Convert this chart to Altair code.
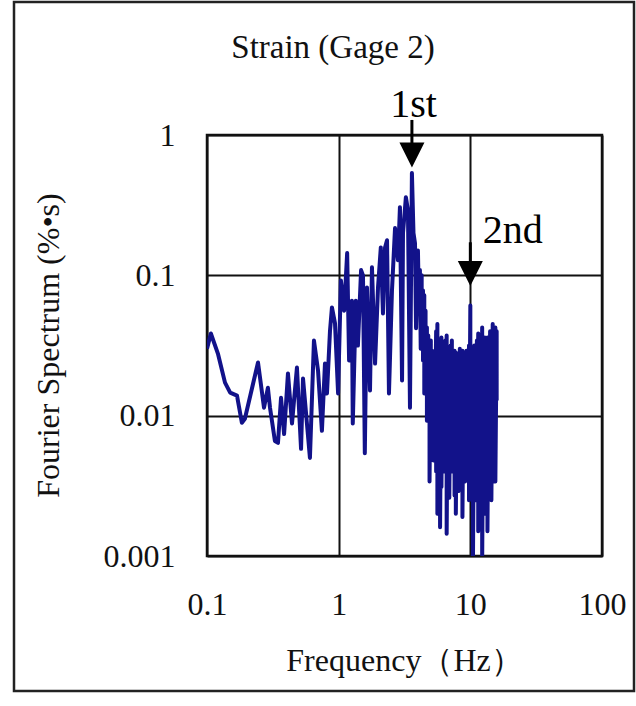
import altair as alt
import pandas as pd

FONT = "Liberation Serif"

# ---- spectrum below ~4.2 Hz (individual peaks and dips)
lo_freq = [0.100, 0.107, 0.121, 0.137, 0.150, 0.169, 0.184, 0.194, 0.244, 0.271,
           0.290, 0.301, 0.328, 0.346, 0.365, 0.385, 0.412, 0.442, 0.482, 0.518,
           0.536, 0.605, 0.649, 0.697, 0.746, 0.787, 0.815, 0.859, 0.889, 0.938,
           0.990, 1.04, 1.10, 1.16, 1.20, 1.26, 1.28, 1.35, 1.40, 1.48,
           1.53, 1.58, 1.64, 1.73, 1.79, 1.89, 1.99, 2.09, 2.17, 2.25,
           2.33, 2.41, 2.54, 2.68, 2.82, 2.92, 3.03, 3.08, 3.24, 3.36,
           3.48, 3.60, 3.70, 3.80, 3.87, 4.00, 4.07, 4.14, 4.20]
lo_amp = [0.030, 0.0385, 0.0277, 0.0172, 0.0146, 0.0139, 0.0089, 0.0095, 0.0239, 0.0114,
          0.0158, 0.0114, 0.0066, 0.0064, 0.0134, 0.0074, 0.020, 0.0088, 0.022, 0.0058,
          0.0184, 0.0050, 0.0343, 0.021, 0.0078, 0.0235, 0.0144, 0.040, 0.059, 0.0454,
          0.0144, 0.092, 0.056, 0.144, 0.0247, 0.066, 0.0088, 0.066, 0.0316, 0.109,
          0.10, 0.0054, 0.082, 0.0151, 0.114, 0.0235, 0.082, 0.158, 0.0535, 0.158,
          0.178, 0.0144, 0.078, 0.217, 0.128, 0.306, 0.0178, 0.20, 0.36, 0.291,
          0.0114, 0.535, 0.20, 0.169, 0.042, 0.15, 0.063, 0.109, 0.030]

# ---- dense band above ~4.2 Hz: local peak and trough at each frequency
hf_freq = [4.27, 4.37, 4.47, 4.57, 4.68, 4.79, 4.90, 5.01, 5.13, 5.25,
           5.37, 5.50, 5.62, 5.75, 5.89, 6.03, 6.17, 6.31, 6.46, 6.61,
           6.76, 6.92, 7.08, 7.24, 7.41, 7.59, 7.76, 7.94, 8.13, 8.32,
           8.51, 8.71, 8.91, 9.12, 9.33, 9.55, 9.77, 10.0, 10.23, 10.47,
           10.72, 10.96, 11.22, 11.48, 11.75, 12.02, 12.30, 12.59, 12.88, 13.18,
           13.49, 13.80, 14.13, 14.45, 14.79, 15.14, 15.49, 15.85]
hf_peak = [0.100, 0.078, 0.072, 0.056, 0.0425, 0.0373, 0.0316, 0.0343, 0.029, 0.0268,
           0.0247, 0.040, 0.045, 0.0316, 0.0247, 0.036, 0.0268, 0.0228, 0.0343, 0.0373,
           0.029, 0.0247, 0.0316, 0.0343, 0.0247, 0.029, 0.0282, 0.021, 0.0268, 0.030,
           0.0247, 0.029, 0.0228, 0.0268, 0.029, 0.021, 0.0316, 0.061, 0.0282, 0.0247,
           0.0316, 0.0268, 0.0343, 0.0385, 0.029, 0.0343, 0.0425, 0.0316, 0.036, 0.029,
           0.036, 0.0316, 0.040, 0.0343, 0.045, 0.0373, 0.0425, 0.040]
hf_trough = [0.040, 0.0247, 0.0144, 0.0178, 0.0092, 0.0128, 0.0034, 0.0063, 0.0092, 0.0048,
             0.0078, 0.0040, 0.0020, 0.0066, 0.0016, 0.0031, 0.0056, 0.0040, 0.0066, 0.00144,
             0.0048, 0.0026, 0.0056, 0.0040, 0.0066, 0.0027, 0.0020, 0.0048, 0.0029, 0.0056,
             0.0040, 0.0019, 0.0048, 0.0034, 0.0066, 0.0040, 0.0025, 0.0092, 0.0029, 0.0009,
             0.0040, 0.0025, 0.0048, 0.0015, 0.0040, 0.0025, 0.0009, 0.0034, 0.0020, 0.0048,
             0.0015, 0.0029, 0.0040, 0.0025, 0.0034, 0.0048, 0.0034, 0.0128]

# ---- mode annotations
arrow_freq = [3.60, 10.0]
arrow_top = [1.28, 0.172]
arrow_head = [0.72, 0.103]
note_text = ["1st", "2nd"]
note_freq = [3.70, 21.0]
note_amp = [1.34, 0.169]

TITLE = "Strain (Gage 2)"
X_TITLE = "Frequency（Hz）"
Y_TITLE = "Fourier Spectrum (%•s)"

rows = []
for f, a in zip(lo_freq, lo_amp):
    rows.append({"f": f, "a": a})
for f, p, t in zip(hf_freq, hf_peak, hf_trough):
    rows.append({"f": f, "a": p})
    rows.append({"f": f, "a": t})
spec = pd.DataFrame(rows)
spec["i"] = range(len(spec))

arrows = pd.DataFrame({"f": arrow_freq, "a": arrow_top, "a2": arrow_head})
notes = pd.DataFrame({"f": note_freq, "a": note_amp, "t": note_text})

xscale = alt.Scale(type="log", domain=[0.1, 100])
yscale = alt.Scale(type="log", domain=[0.001, 1])

x_axis = alt.Axis(values=[0.1, 1, 10, 100], labelExpr="datum.value",
                  title=X_TITLE, titleX=197, titleY=114,
                  titleBaseline="alphabetic", titleAlign="center",
                  labelPadding=33, labelFlush=False, labelOverlap=False)
y_axis = alt.Axis(values=[0.001, 0.01, 0.1, 1], labelExpr="datum.value",
                  title=Y_TITLE, titleX=-149, titleY=210,
                  titleAngle=-90, titleBaseline="alphabetic", titleAlign="center",
                  labelPadding=32, labelFlush=False, labelOverlap=False)

X = alt.X("f:Q", scale=xscale, axis=x_axis)
Y = alt.Y("a:Q", scale=yscale, axis=y_axis)

line = alt.Chart(spec).mark_line(
    color="#12128a", strokeWidth=4, clip=True, strokeJoin="round"
).encode(x=X, y=Y, order="i:Q")

shaft = alt.Chart(arrows).mark_rule(color="black", strokeWidth=3).encode(
    x=X, y=Y, y2="a2:Q"
)
head = alt.Chart(arrows).mark_point(
    shape="M-1,-1L1,-1L0,1Z", filled=True, size=625, color="black", opacity=1
).encode(x=X, y=alt.Y("a2:Q", scale=yscale, axis=y_axis))

labels = alt.Chart(notes).mark_text(
    font=FONT, fontSize=40, color="black", align="center", baseline="alphabetic"
).encode(x=X, y=Y, text="t:N")

deco = alt.Data(values=[{"t": TITLE}])
frame = alt.Chart(deco).mark_rect(
    fill="white", fillOpacity=0, stroke="#222222", strokeWidth=2.5
).encode(
    x=alt.value(-193), x2=alt.value(427), y=alt.value(-133), y2=alt.value(556)
)
title = alt.Chart(deco).mark_text(
    font=FONT, fontSize=33, color="#111111", align="center", baseline="alphabetic"
).encode(x=alt.value(126), y=alt.value(-77), text="t:N")

chart = alt.layer(line, shaft, head, labels, frame, title).properties(
    width=395,
    height=421,
    padding={"left": 207, "top": 135, "right": 34, "bottom": 150},
    autosize=alt.AutoSizeParams(type="none"),
    background="white",
).configure_axis(
    labelFont=FONT, labelFontSize=32, labelColor="#111111",
    titleFont=FONT, titleFontSize=32, titleColor="#111111", titleFontWeight="normal",
    grid=True, gridColor="#111111", gridWidth=2, gridOpacity=1,
    ticks=False, tickSize=0, domain=False,
).configure_view(stroke="#111111", strokeWidth=2.5)

chart.save("out.html", embed_options={"renderer": "svg", "actions": False})
